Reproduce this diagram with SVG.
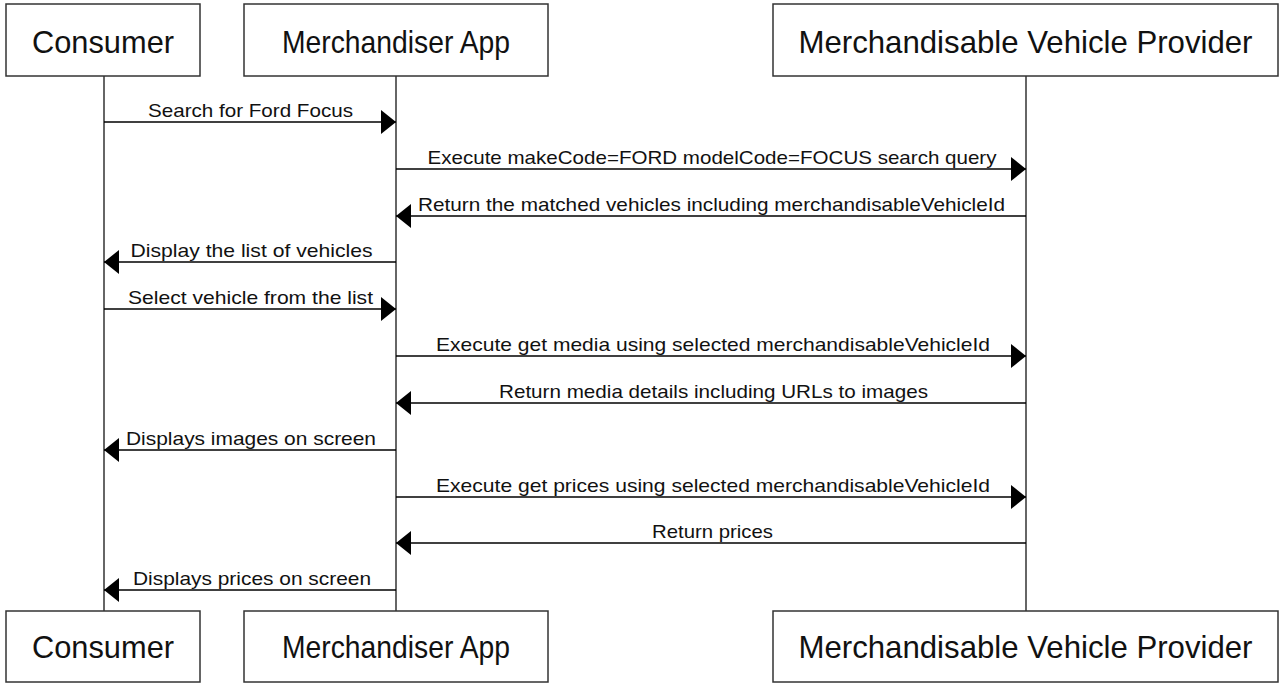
<svg xmlns="http://www.w3.org/2000/svg" width="1287" height="683" viewBox="0 0 1287 683">
<style>
.box{fill:#fff;stroke:#333;stroke-width:1.5}
.life{stroke:#333;stroke-width:1.5;fill:none}
.msg{stroke:#000;stroke-width:1.5;fill:none;marker-end:url(#ah)}
.pt{font-family:"Liberation Sans",Arial,sans-serif;font-size:32px;fill:#111;text-anchor:middle}
.mt{font-family:"Liberation Sans",Arial,sans-serif;font-size:19px;fill:#111;text-anchor:middle}
</style>
<defs>
<marker id="ah" markerUnits="userSpaceOnUse" markerWidth="15" markerHeight="24" refX="15" refY="12" orient="auto" viewBox="0 0 15 24">
<path d="M0,0 L15,12 L0,24 Z" fill="#000"/>
</marker>
</defs>
<g id="lifelines">
<line class="life" x1="104" y1="76" x2="104" y2="611"/>
<line class="life" x1="396" y1="76" x2="396" y2="611"/>
<line class="life" x1="1026" y1="76" x2="1026" y2="611"/>
</g>
<g id="consumer-top"><rect class="box" x="6" y="4" width="194" height="72"/><text class="pt" x="103" y="53" textLength="142" lengthAdjust="spacingAndGlyphs">Consumer</text></g>
<g id="merch-top"><rect class="box" x="244" y="4" width="304" height="72"/><text class="pt" x="396" y="53" textLength="228" lengthAdjust="spacingAndGlyphs">Merchandiser App</text></g>
<g id="provider-top"><rect class="box" x="773" y="4" width="505" height="72"/><text class="pt" x="1025.5" y="53" textLength="454" lengthAdjust="spacingAndGlyphs">Merchandisable Vehicle Provider</text></g>
<g id="consumer-bottom"><rect class="box" x="6" y="611" width="194" height="71"/><text class="pt" x="103" y="658" textLength="142" lengthAdjust="spacingAndGlyphs">Consumer</text></g>
<g id="merch-bottom"><rect class="box" x="244" y="611" width="304" height="71"/><text class="pt" x="396" y="658" textLength="228" lengthAdjust="spacingAndGlyphs">Merchandiser App</text></g>
<g id="provider-bottom"><rect class="box" x="773" y="611" width="505" height="71"/><text class="pt" x="1025.5" y="658" textLength="454" lengthAdjust="spacingAndGlyphs">Merchandisable Vehicle Provider</text></g>
<g id="connectors">
<line class="msg" x1="104" y1="122" x2="396" y2="122"/>
<text class="mt" x="250.5" y="116.5" textLength="205" lengthAdjust="spacingAndGlyphs">Search for Ford Focus</text>
<line class="msg" x1="396" y1="169" x2="1026" y2="169"/>
<text class="mt" x="712" y="163.5" textLength="569" lengthAdjust="spacingAndGlyphs">Execute makeCode=FORD modelCode=FOCUS search query</text>
<line class="msg" x1="1026" y1="216" x2="396" y2="216"/>
<text class="mt" x="711.5" y="210.5" textLength="587" lengthAdjust="spacingAndGlyphs">Return the matched vehicles including merchandisableVehicleId</text>
<line class="msg" x1="396" y1="262" x2="104" y2="262"/>
<text class="mt" x="251.5" y="256.5" textLength="242" lengthAdjust="spacingAndGlyphs">Display the list of vehicles</text>
<line class="msg" x1="104" y1="309" x2="396" y2="309"/>
<text class="mt" x="250.5" y="303.5" textLength="245" lengthAdjust="spacingAndGlyphs">Select vehicle from the list</text>
<line class="msg" x1="396" y1="356" x2="1026" y2="356"/>
<text class="mt" x="713" y="350.5" textLength="554" lengthAdjust="spacingAndGlyphs">Execute get media using selected merchandisableVehicleId</text>
<line class="msg" x1="1026" y1="403" x2="396" y2="403"/>
<text class="mt" x="713.5" y="397.5" textLength="429" lengthAdjust="spacingAndGlyphs">Return media details including URLs to images</text>
<line class="msg" x1="396" y1="450" x2="104" y2="450"/>
<text class="mt" x="251" y="444.5" textLength="250" lengthAdjust="spacingAndGlyphs">Displays images on screen</text>
<line class="msg" x1="396" y1="497" x2="1026" y2="497"/>
<text class="mt" x="713" y="491.5" textLength="554" lengthAdjust="spacingAndGlyphs">Execute get prices using selected merchandisableVehicleId</text>
<line class="msg" x1="1026" y1="543" x2="396" y2="543"/>
<text class="mt" x="712.5" y="537.5" textLength="121" lengthAdjust="spacingAndGlyphs">Return prices</text>
<line class="msg" x1="396" y1="590" x2="104" y2="590"/>
<text class="mt" x="252" y="584.5" textLength="238" lengthAdjust="spacingAndGlyphs">Displays prices on screen</text>
</g>
</svg>
